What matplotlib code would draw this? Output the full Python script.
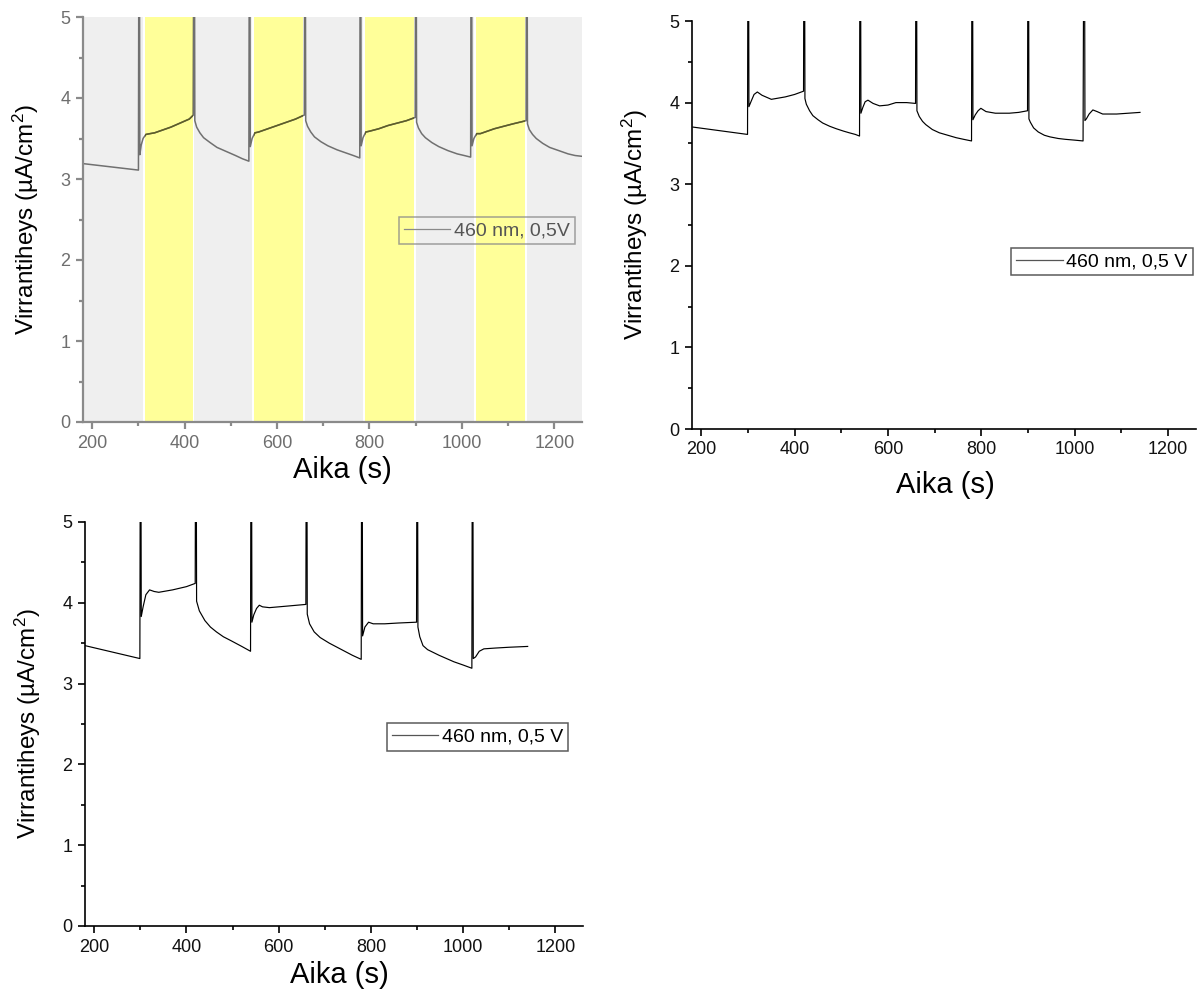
import numpy as np
import matplotlib
matplotlib.use('Agg')
from matplotlib import pyplot as plt
from matplotlib.ticker import MultipleLocator

font = {'family': ['Liberation Sans', 'DejaVu Sans']}
matplotlib.rc('font', **font)
matplotlib.rc('mathtext', fontset='custom', rm='Liberation Sans',
              it='Liberation Sans:italic', bf='Liberation Sans:bold')

# --- data (time in s, current density in uA/cm2) ---
# top-left panel (with illumination shading)
t_a = [180, 300, 301.5, 303, 306, 310, 316, 325, 335, 350, 370, 390, 410, 419,
       420.5, 422, 426, 433, 441, 455, 470, 490, 510, 525, 539,
       540.5, 542, 546, 552, 560, 580, 600, 620, 640, 659,
       660.5, 662, 666, 673, 681, 695, 710, 730, 750, 765, 779,
       780.5, 782, 786, 792, 800, 820, 840, 860, 880, 899,
       900.5, 902, 906, 913, 921, 935, 950, 970, 990, 1005, 1019,
       1020.5, 1022, 1026, 1032, 1040, 1050, 1070, 1090, 1110, 1139,
       1140.5, 1142, 1146, 1153, 1161, 1175, 1190, 1210, 1230, 1245, 1260]
y_a = [3.19, 3.11, 8, 3.30, 3.42, 3.50, 3.55, 3.56, 3.57, 3.60, 3.64, 3.69, 3.74, 3.79,
       8, 3.72, 3.64, 3.57, 3.51, 3.45, 3.39, 3.34, 3.29, 3.25, 3.22,
       8, 3.40, 3.50, 3.57, 3.58, 3.62, 3.66, 3.70, 3.74, 3.79,
       8, 3.72, 3.65, 3.58, 3.52, 3.46, 3.41, 3.36, 3.32, 3.29, 3.26,
       8, 3.41, 3.51, 3.58, 3.59, 3.62, 3.66, 3.69, 3.72, 3.76,
       8, 3.70, 3.63, 3.56, 3.51, 3.45, 3.40, 3.35, 3.31, 3.29, 3.27,
       8, 3.41, 3.50, 3.56, 3.56, 3.58, 3.62, 3.65, 3.68, 3.72,
       8, 3.68, 3.61, 3.55, 3.50, 3.44, 3.39, 3.35, 3.31, 3.29, 3.28]
dark_spans = [(180, 309), (421, 546), (660, 786), (900, 1027), (1141, 1260)]
light_spans = [(315, 417), (550, 656), (790, 897), (1031, 1137)]

# top-right panel
t_b = [182, 299, 300.5, 302, 307, 313, 320, 330, 350, 380, 400, 419,
       420.5, 422, 425, 432, 439, 450, 460, 475, 489, 505, 517, 530, 539,
       540.5, 542, 546, 551, 557, 568, 582, 600, 617, 640, 659,
       660.5, 662, 667, 674, 681, 695, 710, 728, 746, 762, 779,
       780.5, 782, 787, 793, 799, 810, 830, 860, 880, 899,
       900.5, 902, 905, 912, 922, 935, 947, 965, 980, 1000, 1018,
       1020.5, 1022, 1025, 1031, 1039, 1048, 1060, 1090, 1115, 1140]
y_b = [3.70, 3.61, 8, 3.95, 4.02, 4.10, 4.13, 4.09, 4.04, 4.07, 4.10, 4.14,
       8, 4.05, 3.98, 3.90, 3.84, 3.79, 3.75, 3.71, 3.68, 3.65, 3.63, 3.61, 3.59,
       8, 3.87, 3.94, 4.01, 4.03, 3.99, 3.96, 3.97, 4.00, 4.00, 3.99,
       8, 3.90, 3.83, 3.77, 3.73, 3.67, 3.63, 3.60, 3.57, 3.55, 3.53,
       8, 3.79, 3.85, 3.90, 3.93, 3.89, 3.87, 3.87, 3.88, 3.90,
       8, 3.80, 3.76, 3.69, 3.64, 3.60, 3.58, 3.56, 3.55, 3.54, 3.53,
       8, 3.78, 3.80, 3.86, 3.91, 3.89, 3.86, 3.86, 3.87, 3.88]

# bottom-left panel
t_c = [180, 299, 300.5, 302, 306, 312, 320, 330, 340, 370, 400, 419,
       420.5, 422, 428, 440, 452, 465, 480, 497, 520, 539,
       540.5, 542, 546, 552, 558, 565, 580, 620, 659,
       660.5, 662, 667, 677, 690, 710, 740, 760, 779,
       780.5, 782, 787, 795, 805, 830, 860, 899,
       900.5, 902, 906, 913, 923, 948, 980, 1000, 1019,
       1020.5, 1022, 1027, 1035, 1045, 1070, 1100, 1140]
y_c = [3.47, 3.31, 8, 3.83, 3.95, 4.10, 4.16, 4.14, 4.13, 4.16, 4.20, 4.24,
       8, 4.02, 3.90, 3.78, 3.70, 3.64, 3.58, 3.53, 3.46, 3.40,
       8, 3.76, 3.85, 3.93, 3.97, 3.95, 3.94, 3.96, 3.98,
       8, 3.86, 3.74, 3.64, 3.57, 3.50, 3.41, 3.35, 3.30,
       8, 3.59, 3.70, 3.76, 3.74, 3.74, 3.75, 3.76,
       8, 3.70, 3.58, 3.47, 3.42, 3.35, 3.27, 3.23, 3.19,
       8, 3.31, 3.33, 3.40, 3.43, 3.44, 3.45, 3.46]

label = '460 nm, 0,5 V'
label_a = '460 nm, 0,5V'
xlabel = 'Aika (s)'
ylabel = 'Virrantiheys (µA/cm$^2$)'

W, H = 1204, 994
fig = plt.figure(figsize=(W / 100, H / 100), dpi=100)


def box(l, r, t, b):
    return [l / W, 1 - b / H, (r - l) / W, (b - t) / H]


def style(ax, col, lab_col, spine_w):
    ax.set_xlim(180, 1260)
    ax.set_ylim(0, 5)
    ax.xaxis.set_major_locator(MultipleLocator(200))
    ax.xaxis.set_minor_locator(MultipleLocator(100))
    ax.yaxis.set_major_locator(MultipleLocator(1))
    ax.yaxis.set_minor_locator(MultipleLocator(0.5))
    for s in ('top', 'right'):
        ax.spines[s].set_visible(False)
    for s in ('left', 'bottom'):
        ax.spines[s].set_color(col)
        ax.spines[s].set_linewidth(spine_w)
    ax.tick_params(which='major', direction='out', length=5, width=spine_w,
                   color=col, labelcolor=lab_col, labelsize=13, pad=4)
    ax.tick_params(which='minor', direction='out', length=3, width=spine_w,
                   color=col)
    ax.set_xlabel(xlabel, fontsize=21, va='center')
    ax.set_ylabel(ylabel, fontsize=17.5, va='center')


def add_legend(ax, anchor, text_col, edge_col, line_col):
    leg = ax.legend(loc='upper left', bbox_to_anchor=anchor, borderaxespad=0,
                    fontsize=14, frameon=True, fancybox=False, handlelength=2.4,
                    handletextpad=0.2, borderpad=0.25, labelcolor=text_col)
    leg.get_frame().set_facecolor('none')
    leg.get_frame().set_edgecolor(edge_col)
    leg.get_frame().set_linewidth(1.1)
    leg.get_lines()[0].set_color(line_col)
    leg.get_lines()[0].set_linewidth(0.9)


# top-left: shaded light/dark periods
ax_a = fig.add_axes(box(83, 582, 17, 422))
for a, b in dark_spans:
    ax_a.axvspan(a, b, color='#efefef', lw=0, zorder=0)
ax_a.plot(t_a, y_a, color='#707070', lw=1.1, zorder=2, label=label_a)
for a, b in light_spans:
    p = ax_a.axvspan(a, b, color='#ffff99', lw=0, zorder=0)
    ln, = ax_a.plot(t_a, y_a, color='#5e5e25', lw=1.1, zorder=3)
    ln.set_clip_path(p)
style(ax_a, '#8a8a8a', '#6e6e6e', 1.6)
ax_a.xaxis.set_label_coords(0.52, -0.118)
ax_a.yaxis.set_label_coords(-0.114, 0.5)
add_legend(ax_a, (0.633, 0.506), '#555555', '#8a8a8a', '#8a8a8a')

# top-right
ax_b = fig.add_axes(box(692, 1196, 21, 429))
ax_b.plot(t_b, y_b, color='black', lw=0.85, label=label)
style(ax_b, 'black', '#111111', 1.2)
ax_b.xaxis.set_label_coords(0.503, -0.137)
ax_b.yaxis.set_label_coords(-0.113, 0.5)
add_legend(ax_b, (0.633, 0.444), 'black', '#333333', '#555555')

# bottom-left
ax_c = fig.add_axes(box(85, 583, 522, 926))
ax_c.plot(t_c, y_c, color='black', lw=0.85, label=label)
style(ax_c, 'black', '#111111', 1.2)
ax_c.xaxis.set_label_coords(0.51, -0.122)
ax_c.yaxis.set_label_coords(-0.114, 0.5)
add_legend(ax_c, (0.606, 0.502), 'black', '#333333', '#555555')

plt.savefig('out.png', dpi=100)
